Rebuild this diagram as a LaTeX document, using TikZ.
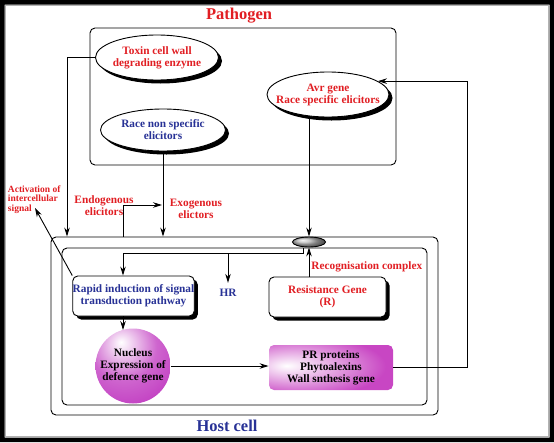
\documentclass[tikz,border=0pt]{standalone}
\usepackage{fontspec}
\setmainfont{Liberation Serif}
\usetikzlibrary{shapes.geometric,shadows,arrows.meta}
\definecolor{pathred}{RGB}{225,30,35}
\definecolor{hostblue}{RGB}{40,50,150}
\definecolor{nuccol}{RGB}{190,50,190}
\definecolor{prcol}{RGB}{200,70,195}
\pgfdeclareradialshading{nucleusball}{\pgfpoint{-8bp}{16bp}}{color(0bp)=(white); color(6bp)=(nuccol!20!white); color(22bp)=(nuccol!75!white); color(44bp)=(nuccol); color(50bp)=(nuccol!92!black); color(100bp)=(nuccol!92!black)}
\pgfdeclareradialshading{prglow}{\pgfpoint{-18bp}{2bp}}{color(0bp)=(white); color(12bp)=(prcol!35!white); color(34bp)=(prcol); color(100bp)=(prcol)}
\begin{document}
\begin{tikzpicture}[x=1pt,y=-1pt,line width=0.9pt,
    font=\bfseries\fontsize{11.3}{12}\selectfont,
    arr/.style={-{Stealth[length=9pt,width=5.5pt]}},
    frame/.style={draw, rounded corners=5pt, inner sep=0pt},
    oval/.style={ellipse, draw, fill=white, inner xsep=-15pt, inner ysep=0pt,
        minimum width=123pt, minimum height=45pt, align=center,
        drop shadow={shadow xshift=3.5pt, shadow yshift=-3.5pt, fill=black, opacity=1}},
    rbox/.style={rectangle, rounded corners=5pt, draw, fill=white, inner sep=0pt,
        minimum width=119pt, minimum height=40pt, align=center,
        drop shadow={shadow xshift=3.5pt, shadow yshift=-3.5pt, fill=black, opacity=1}},
    bigtitle/.style={font=\bfseries\fontsize{16.5}{18}\selectfont}]
\useasboundingbox (0,0) rectangle (554,442);
% outer frame
\fill[black, even odd rule] (0,0) rectangle (554,442) (4.5,4.5) rectangle (549.5,437.5);
\draw[gray!60, line width=1.2pt] (5.2,5.2) rectangle (548.8,436.8);

\node[bigtitle, text=pathred] (pathogen) at (239,16) {Pathogen};
\node[frame, minimum width=306pt, minimum height=137pt] (pbox) at (243,96.5) {};
\node[frame, minimum width=387pt, minimum height=178pt] (host) at (244.5,326) {};
\node[frame, minimum width=365pt, minimum height=157pt] (hostin) at (244.5,326.5) {};
\node[bigtitle, text=hostblue] (hostlabel) at (227,426) {Host cell};

\node[oval, text=pathred] (toxin) at (157,57.5) {Toxin cell wall\\degrading enzyme};
\node[oval, text=hostblue, minimum width=125pt, minimum height=42pt] (race) at (163,130) {Race non specific\\elicitors};
\node[oval, text=pathred, minimum width=122pt] (avr) at (328,94.5) {Avr gene\\Race specific elicitors};

\node[align=center, text=pathred] (endo) at (104,206) {Endogenous\\elicitors};
\node[align=center, text=pathred] (exo) at (196,208.5) {Exogenous\\elictors};
\node[anchor=north west, align=left, inner sep=0pt, text=pathred,
    font=\bfseries\fontsize{9.5}{9.3}\selectfont] (act) at (7.5,185.5) {Activation of\\intercellular\\signal};
\coordinate (acttip) at (35,208);

\node[rbox, text=hostblue] (rapid) at (133.5,296) {Rapid induction of signal\\transduction pathway};
\node[rbox, text=pathred, minimum width=117pt] (res) at (327.5,297) {Resistance Gene\\(R)};
\node[text=hostblue, inner sep=6pt] (hr) at (228,293) {HR};
\node[anchor=west, inner sep=0pt, text=pathred] (recog) at (311,266.5) {Recognisation complex};

\node[circle, shading=nucleusball, minimum size=75pt, inner sep=0pt, align=center] (nucleus) at (133,366) {Nucleus\\Expression of\\defence gene};
\node[rectangle, rounded corners=5pt, shading=prglow, minimum width=124pt, minimum height=45pt,
    inner sep=0pt, align=center] (pr) at (331,367.5) {PR proteins\\Phytoalexins\\Wall snthesis gene};

\coordinate (split) at (123,253);
\coordinate (sigin) at (303,248);

\draw[arr] (toxin.west) -| (host.north -| 67,0);
\draw[arr] (race.south) -- (race.south |- host.north);
\draw[arr, shorten >=1pt] (split |- host.north) |- (race.south |- 0,205);
\draw[arr] (rapid.north west) -- (acttip);
\draw (sigin) |- (split);
\draw[arr] (split) -- (split |- rapid.north);
\draw[arr] (hr.north |- split) -- (hr.north);
\draw[arr] (split |- rapid.south) -- (split |- 0,330);
\draw[arr] (nucleus.east) -- (nucleus.east -| pr.west);
\draw[arr] (pr.east) -- ++(74,0) |- (avr.15);

\node[ellipse, draw, shading=ball, ball color=gray!55, minimum width=33pt, minimum height=10pt, inner sep=0pt] (recep) at (309,242) {};
\draw[arr] (avr.south -| recep.north) -- (recep.north);
\draw[arr] (recep.south |- res.north) -- (recep.south);
\end{tikzpicture}
\end{document}
